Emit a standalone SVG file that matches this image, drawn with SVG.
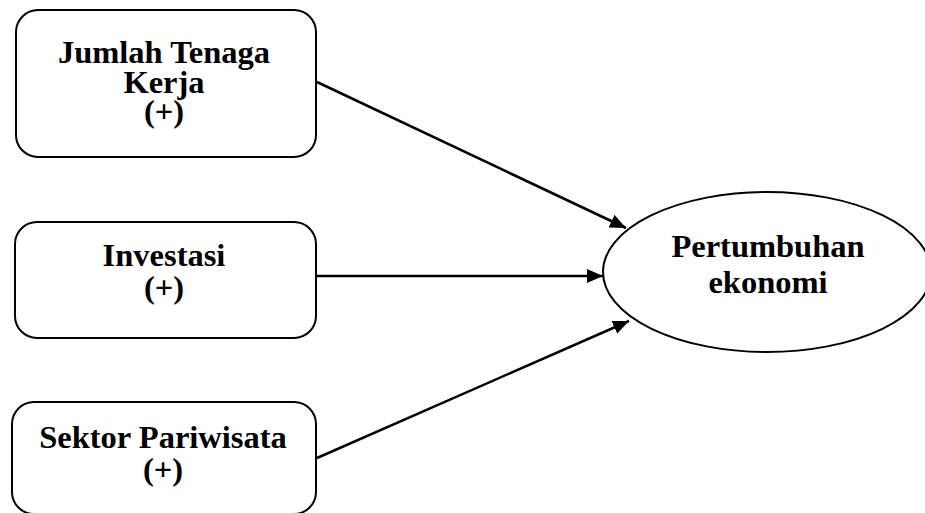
<svg xmlns="http://www.w3.org/2000/svg" width="925" height="513" viewBox="0 0 925 513">
<defs>
<style>
.box{fill:#fff;stroke:#000;stroke-width:2}
.t{font-family:"Liberation Serif","Times New Roman",serif;font-weight:bold;font-size:32.5px;text-anchor:middle;fill:#000}
.c{stroke:#000;stroke-width:2.5;fill:none}
</style>
<marker id="ah" viewBox="0 0 16 14" refX="16" refY="7" markerWidth="16" markerHeight="14" markerUnits="userSpaceOnUse" orient="auto">
<path d="M0,0 L16,7 L0,14 z" fill="#000"/>
</marker>
</defs>
<rect width="925" height="513" fill="#fff"/>
<g id="connectors">
<line class="c" x1="317" y1="82" x2="626" y2="228" marker-end="url(#ah)"/>
<line class="c" x1="317" y1="276" x2="603" y2="276" marker-end="url(#ah)"/>
<line class="c" x1="317" y1="458" x2="629" y2="321" marker-end="url(#ah)"/>
</g>
<g id="node-jumlah">
<rect class="box" x="16" y="10" width="300" height="147" rx="22"/>
<text class="t" x="164" y="63">Jumlah Tenaga</text>
<text class="t" x="164" y="93">Kerja</text>
<text class="t" x="164" y="122">(+)</text>
</g>
<g id="node-investasi">
<rect class="box" x="15" y="222" width="301" height="116" rx="22"/>
<text class="t" x="164" y="266">Investasi</text>
<text class="t" x="164" y="298">(+)</text>
</g>
<g id="node-sektor">
<rect class="box" x="12" y="402" width="304" height="112" rx="22"/>
<text class="t" x="163" y="448">Sektor Pariwisata</text>
<text class="t" x="163" y="480">(+)</text>
</g>
<g id="node-pertumbuhan">
<ellipse class="box" cx="767" cy="272" rx="164" ry="80"/>
<text class="t" x="768" y="257">Pertumbuhan</text>
<text class="t" x="768" y="293">ekonomi</text>
</g>
</svg>
